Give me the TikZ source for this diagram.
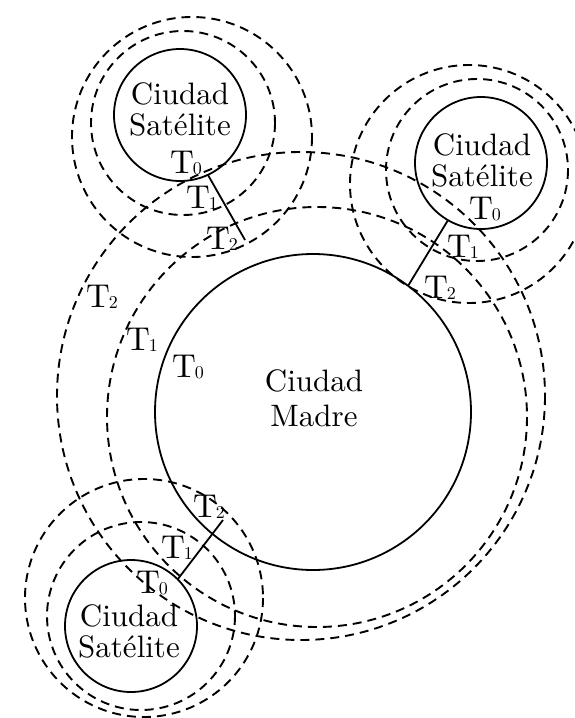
\documentclass[tikz,border=0pt]{standalone}
\usepackage{fontspec}
\setmainfont{lmroman10-regular.otf}
\newcommand{\Tlab}[1]{T\kern-1pt\raisebox{-1.5pt}{\fontsize{18}{18}\selectfont #1}}
\begin{document}
\begin{tikzpicture}[x=1pt,y=-1pt,
  ring/.style={draw=black,line width=1.9pt,dash pattern=on 9pt off 6pt},
  city/.style={circle,draw=black,line width=1.8pt,inner sep=0pt,outer sep=0pt,minimum size=#1},
  cityname/.style={align=center,font=\fontsize{31}{31}\selectfont,inner sep=0pt},
  tlab/.style={font=\fontsize{33}{33}\selectfont,inner sep=0pt},
  link/.style={draw=black,line width=1.8pt}]
\useasboundingbox (0,0) rectangle (574,718);
% main city
\node[city=316pt] (m) at (313,412) {};
\node[cityname,font=\fontsize{31}{35}\selectfont] (mt) at (314,398) {Ciudad\\Madre};
\draw[ring] (317,417) circle (210);
\draw[ring] (301,396) circle (244);
% satellite 1 (top left)
\node[city=132pt] (s1) at (180,115) {};
\node[cityname] (s1t) at (180,109) {Ciudad\\Satélite};
\draw[ring] (183,123) circle (92);
\draw[ring] (192,137) circle (120);
% satellite 2 (right)
\node[city=132pt] (s2) at (481,163) {};
\node[cityname] (s2t) at (482,160) {Ciudad\\Satélite};
\draw[ring] (477,170) circle (91);
\draw[ring] (469,184) circle (119);
% satellite 3 (bottom left)
\node[city=132pt] (s3) at (131,626) {};
\node[cityname] (s3t) at (129,631) {Ciudad\\Satélite};
\draw[ring] (141,616) circle (94);
\draw[ring] (144,598) circle (119);
% connectors
\coordinate (e1) at (245,240);
\coordinate (e3) at (223,520);
\draw[link] (s1.-65) -- (e1);
\draw[link] (s2.240.8) -- (m.53.3);
\draw[link] (s3.45) -- (e3);
% labels
\node[tlab] (a0) at (186,163) {\Tlab{0}};
\node[tlab] (a1) at (202,198) {\Tlab{1}};
\node[tlab] (a2) at (222,239) {\Tlab{2}};
\node[tlab] (m2) at (102,297) {\Tlab{2}};
\node[tlab] (m1) at (142,340) {\Tlab{1}};
\node[tlab] (m0) at (188,367) {\Tlab{0}};
\node[tlab] (b0) at (485,209) {\Tlab{0}};
\node[tlab] (b1) at (463,247) {\Tlab{1}};
\node[tlab] (b2) at (440,288) {\Tlab{2}};
\node[tlab] (c2) at (209,507) {\Tlab{2}};
\node[tlab] (c1) at (177,548) {\Tlab{1}};
\node[tlab] (c0) at (152,583) {\Tlab{0}};
\end{tikzpicture}
\end{document}
